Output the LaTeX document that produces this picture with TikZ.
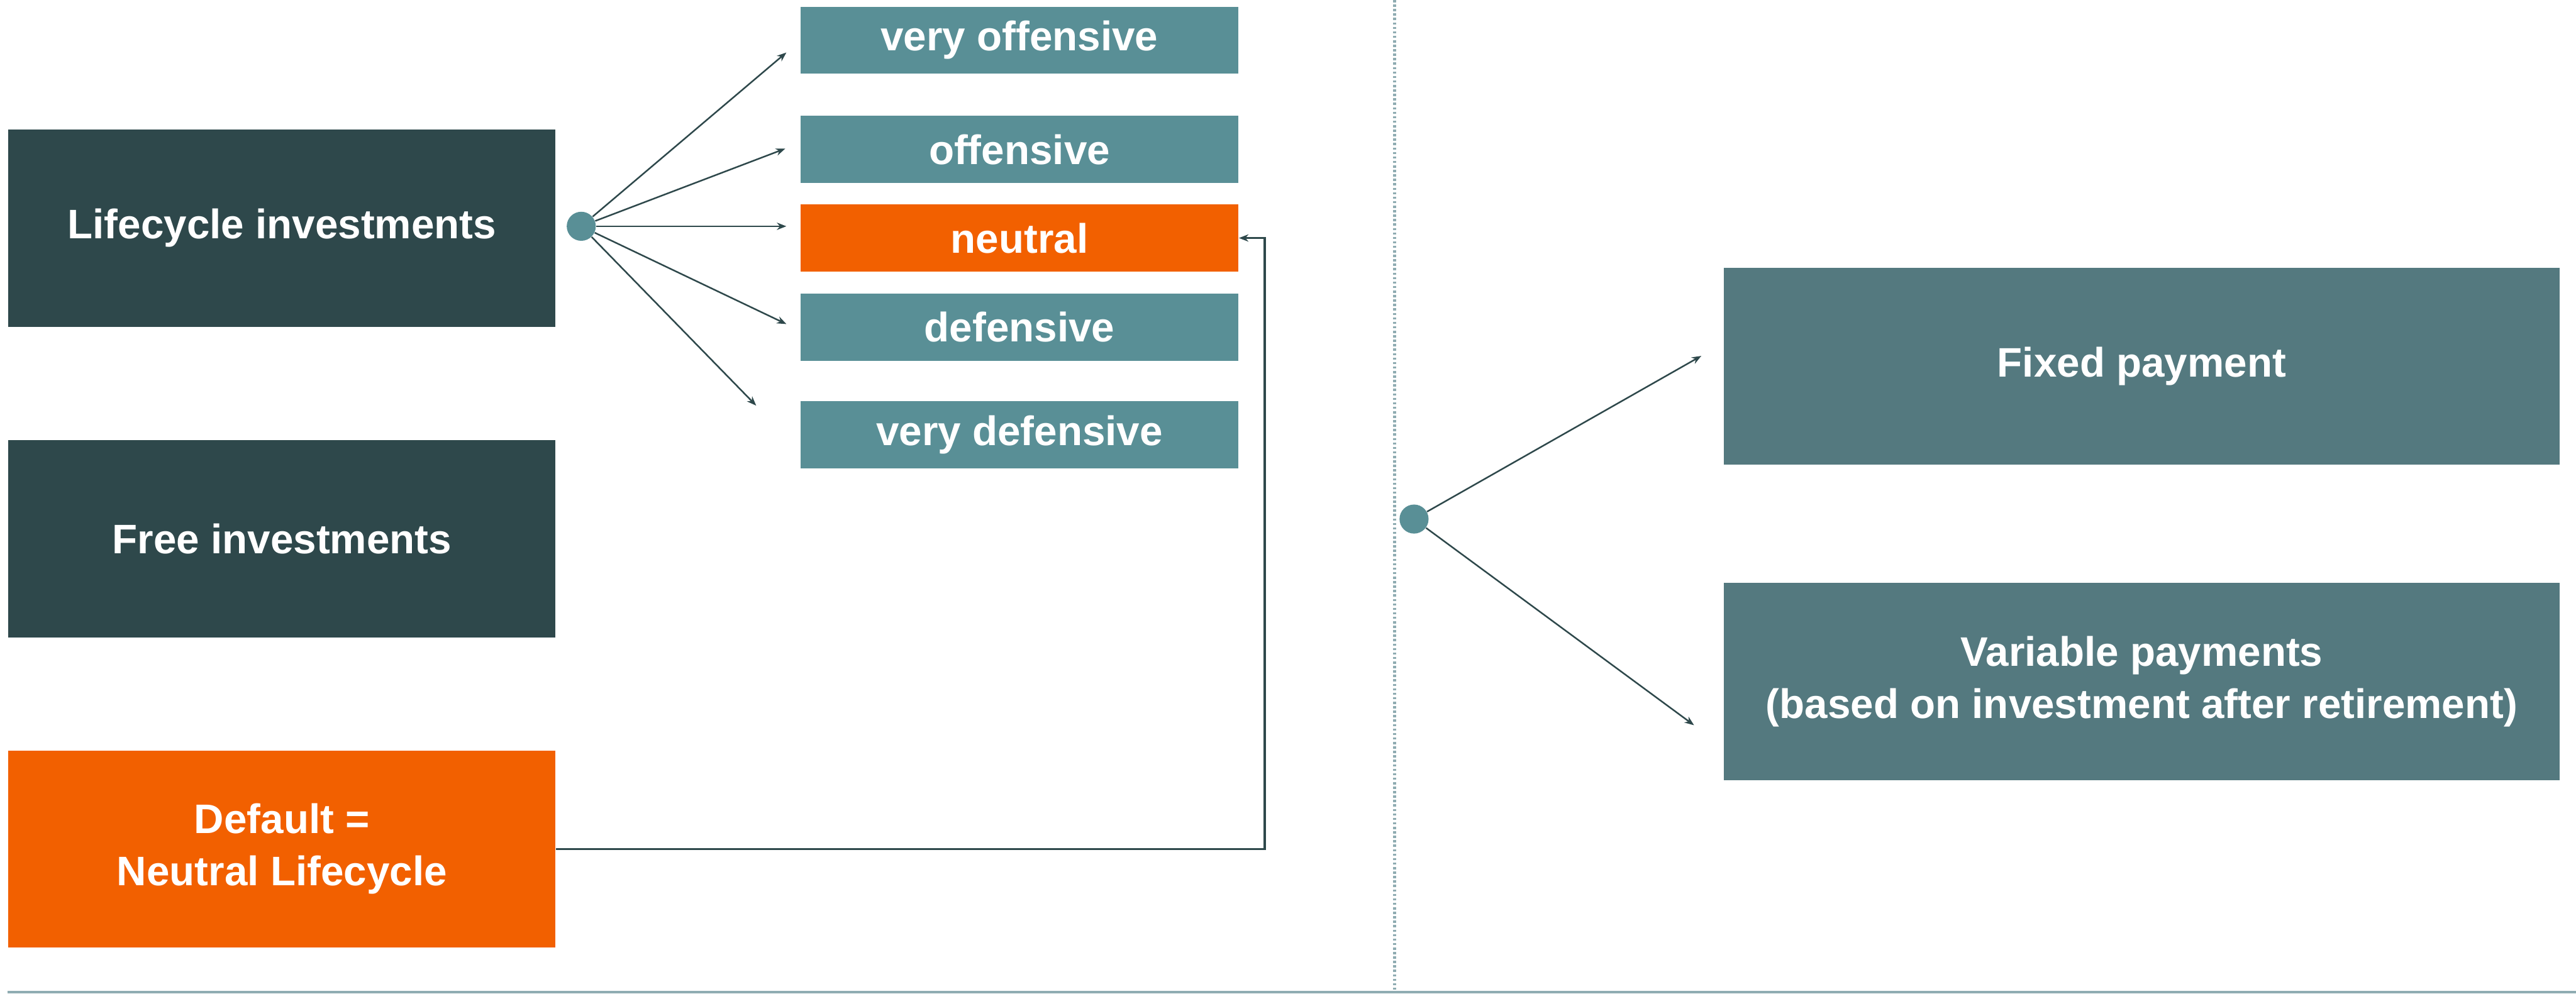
\documentclass[tikz,border=0pt]{standalone}
\usepackage{fontspec}
\setmainfont{Liberation Sans}
\usepackage{xcolor}
\usetikzlibrary{arrows.meta,positioning,calc}
\definecolor{darkteal}{RGB}{46,72,75}
\definecolor{optcol}{RGB}{89,143,150}
\definecolor{hiorange}{RGB}{242,96,0}
\definecolor{slatecol}{RGB}{84,121,127}
\definecolor{rulecol}{RGB}{143,172,178}

\begin{document}
\begin{tikzpicture}[font=\fontsize{21}{26.5}\selectfont\bfseries,
  bigbox/.style={fill=darkteal, text=white, minimum width=9.79cm, minimum height=3.53cm, align=center, inner sep=0pt},
  optbox/.style={fill=optcol, text=white, minimum width=7.84cm, minimum height=1.2cm, inner sep=0pt},
  paybox/.style={fill=slatecol, text=white, minimum width=14.96cm, minimum height=3.53cm, align=center, inner sep=0pt},
  hub/.style={circle, fill=optcol, minimum size=0.52cm, inner sep=0pt},
  fan/.style={draw=darkteal, line width=0.8pt, -{Stealth[length=0.17cm,width=0.13cm]}}]
\useasboundingbox (0,0) rectangle (46.09,17.78);

% left column
\node[bigbox] (life) at (5.045,13.695) {Lifecycle investments};
\node[bigbox] (free) at (5.045,8.14) {Free investments};
\node[bigbox, fill=hiorange] (default) at (5.045,2.585) {Default =\\Neutral Lifecycle};

% lifecycle options
\node[optbox] (vo) at (18.24,17.06) {very offensive};
\node[optbox] (of) at (18.24,15.105) {offensive};
\node[optbox, fill=hiorange] (ne) at (18.24,13.52) {neutral};
\node[optbox] (de) at (18.24,11.925) {defensive};
\node[optbox] (vd) at (18.24,10.00) {very defensive};

\node[hub] (hubL) at (10.40,13.73) {};
\coordinate (tvo) at (14.07,16.84);
\coordinate (tof) at (14.05,15.12);
\coordinate (tne) at (14.07,13.73);
\coordinate (tde) at (14.07,11.98);
\coordinate (tvd) at (13.53,10.52);
\foreach \t in {tvo,tof,tne,tde,tvd}
  \draw[fan] (hubL) -- (\t);

% default goes to neutral
\coordinate (bend) at (22.63,2.585);
\draw[draw=darkteal, line width=1.1pt, -{Stealth[length=0.17cm,width=0.13cm]}]
  (default.east) -- (bend) |- (ne.east);

% divider and base rule
\draw[rulecol, line width=0.06cm, dash pattern=on 0.04cm off 0.04cm] (24.95,17.78) -- (24.95,0.05);
\draw[rulecol, line width=0.05cm] (0.13,0.025) -- (46.09,0.025);

% payout phase
\node[paybox] (fixed) at (38.32,11.225) {Fixed payment};
\node[paybox] (var) at (38.32,5.585) {Variable payments\\(based on investment after retirement)};

\node[hub] (hubR) at (25.30,8.49) {};
\coordinate (tfix) at (30.44,11.41);
\coordinate (tvar) at (30.31,4.80);
\draw[fan] (hubR) -- (tfix);
\draw[fan] (hubR) -- (tvar);
\end{tikzpicture}
\end{document}
